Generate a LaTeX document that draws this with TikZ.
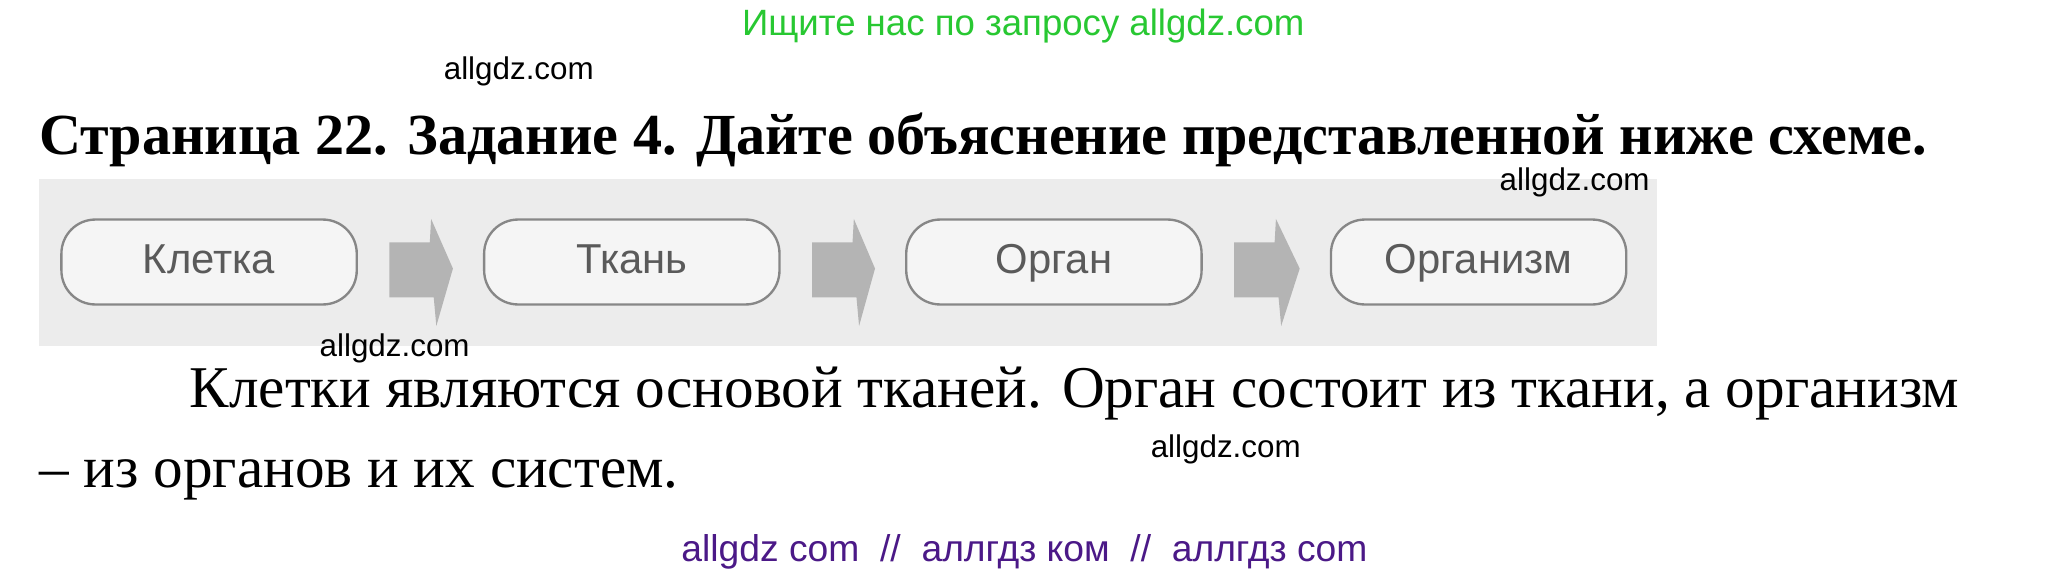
\documentclass[tikz,border=0pt]{standalone}
\usepackage{fontspec}
\setmainfont{Liberation Serif}
\newfontfamily\wm{Liberation Sans}
\usetikzlibrary{calc}
\definecolor{wmgreen}{RGB}{40,200,50}
\definecolor{wmpurple}{RGB}{75,25,135}
\definecolor{bggray}{RGB}{236,236,236}
\definecolor{boxfill}{RGB}{245,245,245}
\definecolor{boxline}{RGB}{135,135,135}
\definecolor{boxtext}{RGB}{90,90,90}
\definecolor{arrowgray}{RGB}{180,180,180}
\tikzset{
  stagebox/.style={draw=boxline, line width=1.8pt, fill=boxfill, rounded corners=26pt,
    minimum width=226pt, minimum height=65pt, inner sep=0pt, text=boxtext,
    text height=23pt, text depth=6pt,
    font=\wm\fontsize{32}{36}\selectfont},
  wmark/.style={anchor=base, inner sep=0pt, font=\wm\fontsize{24}{28}\selectfont},
  blockarrow/.style={fill=arrowgray, draw=none}
}
\newcommand{\stagearrow}[2]{%
  \fill[blockarrow] ($(#1.east)+(24,-15)$) -- ($(#1.east)+(55,-15)$) -- ($(#1.east)+(56,-33)$)
    -- ($(#2.west)+(-23,5)$) -- ($(#1.east)+(60,49)$) -- ($(#1.east)+(58,27)$)
    -- ($(#1.east)+(24,27)$) -- cycle;}
\begin{document}
\begin{tikzpicture}[x=1pt,y=-1pt]
\useasboundingbox (0,0) rectangle (1568,441);
\fill[white] (0,0) rectangle (1568,441);
% watermarks
\node[wmark, text=wmgreen, font=\wm\fontsize{28}{32}\selectfont] (g) at (783,27) {Ищите нас по запросу allgdz.com};
\node[wmark] (w1) at (397,61) {allgdz.com};
% title
\node[anchor=base west, inner sep=0pt, font=\bfseries\fontsize{44.5}{54}\selectfont] (title) at (30,118)
  {Страница 22. Задание 4. Дайте объяснение представленной ниже схеме.};
% scheme background
\fill[bggray] (30,137) rectangle (1268,265);
\node[wmark] (w2) at (1205,146) {allgdz.com};
\node[stagebox] (k) at (160,200.5) {Клетка};
\node[stagebox] (t) at (483.5,200.5) {Ткань};
\node[stagebox] (o) at (806.5,200.5) {Орган};
\node[stagebox] (m) at (1131.5,200.5) {Организм};
\stagearrow{k}{t}
\stagearrow{t}{o}
\stagearrow{o}{m}
\node[wmark] (w3) at (302,273) {allgdz.com};
% body
\node[anchor=base west, inner sep=0pt, font=\fontsize{45.3}{52}\selectfont] (l1) at (145,312)
  {Клетки являются основой тканей. Орган состоит из ткани, а организм};
\node[anchor=base west, inner sep=0pt, font=\fontsize{45.3}{52}\selectfont] (l2) at (30,373)
  {– из органов и их систем.};
\node[wmark] (w4) at (938,350) {allgdz.com};
\node[wmark, text=wmpurple, font=\wm\fontsize{28.5}{32}\selectfont] (p) at (784,430)
  {allgdz com \ // \ аллгдз ком \ // \ аллгдз com};
\end{tikzpicture}
\end{document}
